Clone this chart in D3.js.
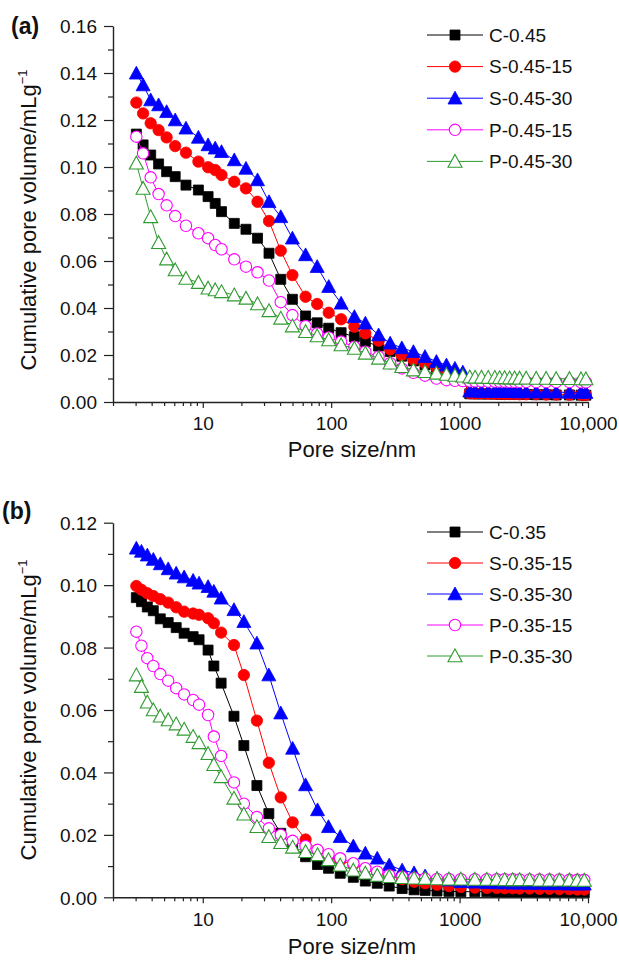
<!DOCTYPE html>
<html>
<head>
<meta charset="utf-8">
<script src="https://cdn.jsdelivr.net/npm/d3@7"></script>
<style>
  body { margin: 0; background: #fff; }
  svg  { display: block; font-family: "Liberation Sans", Arial, Helvetica, sans-serif; }
</style>
</head>
<body>
<svg id="fig" width="619" height="960"></svg>
<script>
// ─── Panel (a): w/c 0.45 ──────────────────────────────────────────────────
const sizeA = [3.04, 3.43, 3.93, 4.53, 5.23, 6.1, 7.4, 9.25, 11.0, 12.5, 14.0, 17.6, 21.7, 26.7, 32.8, 40.5,
  49.9, 63.2, 77.8, 95.7, 119.5, 151.6, 184.6, 234, 288, 355, 437, 538, 660, 790, 920, 1060,
  1200, 1320, 1480, 1670, 1880, 2050, 2240, 2450, 2680, 2930, 3300, 3950, 4720, 5650, 7170, 8820, 9630];

const volC045 = [0.1140, 0.1094, 0.1051, 0.1013, 0.0980, 0.0959, 0.0923, 0.0902, 0.0874, 0.0845, 0.0810, 0.0760,
  0.0735, 0.0697, 0.0633, 0.0522, 0.0437, 0.0366, 0.0337, 0.0314, 0.0295, 0.0278, 0.0257, 0.0238, 0.0215,
  0.0195, 0.0175, 0.0158, 0.0140, 0.0125, 0.0110, 0.0095, 0.0035, 0.0035, 0.0034, 0.0034, 0.0034, 0.0033,
  0.0033, 0.0033, 0.0032, 0.0032, 0.0032, 0.0031, 0.0031, 0.0030, 0.0030, 0.0029, 0.0029];
const volS045_15 = [0.1274, 0.1228, 0.1186, 0.1157, 0.1126, 0.1089, 0.1061, 0.1023, 0.0999, 0.0987, 0.0966, 0.0937,
  0.0909, 0.0852, 0.0770, 0.0644, 0.0540, 0.0448, 0.0417, 0.0380, 0.0352, 0.0320, 0.0292, 0.0261, 0.0224,
  0.0200, 0.0180, 0.0165, 0.0148, 0.0130, 0.0110, 0.0090, 0.0037, 0.0036, 0.0036, 0.0035, 0.0035, 0.0035,
  0.0034, 0.0034, 0.0034, 0.0033, 0.0033, 0.0033, 0.0032, 0.0032, 0.0031, 0.0031, 0.0030];
const volS045_30 = [0.1399, 0.1349, 0.1285, 0.1264, 0.1235, 0.1200, 0.1165, 0.1126, 0.1094, 0.1080, 0.1065, 0.1030,
  0.0994, 0.0945, 0.0852, 0.0788, 0.0697, 0.0626, 0.0576, 0.0491, 0.0420, 0.0363, 0.0335, 0.0285, 0.0250,
  0.0230, 0.0214, 0.0193, 0.0172, 0.0157, 0.0143, 0.0127, 0.0046, 0.0046, 0.0045, 0.0045, 0.0045, 0.0044,
  0.0044, 0.0044, 0.0043, 0.0043, 0.0043, 0.0042, 0.0042, 0.0042, 0.0041, 0.0041, 0.0040];
const volP045_15 = [0.1129, 0.1058, 0.0956, 0.0885, 0.0837, 0.0791, 0.0750, 0.0718, 0.0697, 0.0668, 0.0650, 0.0607,
  0.0576, 0.0552, 0.0517, 0.0425, 0.0370, 0.0323, 0.0292, 0.0275, 0.0257, 0.0235, 0.0214, 0.0193, 0.0165,
  0.0143, 0.0124, 0.0112, 0.0100, 0.0093, 0.0090, 0.0089, 0.0088, 0.0088, 0.0088, 0.0087, 0.0087, 0.0087,
  0.0087, 0.0086, 0.0086, 0.0086, 0.0086, 0.0085, 0.0085, 0.0085, 0.0085, 0.0084, 0.0084];
const volP045_30 = [0.1016, 0.0909, 0.0788, 0.0678, 0.0608, 0.0562, 0.0526, 0.0508, 0.0484, 0.0477, 0.0469, 0.0455,
  0.0441, 0.0417, 0.0388, 0.0356, 0.0323, 0.0299, 0.0281, 0.0264, 0.0243, 0.0228, 0.0207, 0.0186, 0.0165,
  0.0150, 0.0136, 0.0129, 0.0122, 0.0117, 0.0113, 0.0110, 0.0106, 0.0105, 0.0105, 0.0104, 0.0104, 0.0103,
  0.0103, 0.0102, 0.0102, 0.0101, 0.0101, 0.0100, 0.0100, 0.0099, 0.0099, 0.0098, 0.0098];
const namesA = ["C-0.45", "S-0.45-15", "S-0.45-30", "P-0.45-15", "P-0.45-30"];

// ─── Panel (b): w/c 0.35 ──────────────────────────────────────────────────
const sizeB = [3.04, 3.33, 3.70, 4.12, 4.67, 5.38, 6.21, 7.16, 8.41, 9.36, 11.0, 12.2, 13.9, 17.5, 20.9, 26.4,
  32.7, 40.5, 50.1, 63.2, 78.3, 95.3, 117.6, 148.8, 184.5, 228.5, 283, 357, 442, 539, 667, 826, 1023,
  1315, 1630, 1947, 2244, 2588, 2933, 3506, 4191, 5010, 5988, 7158, 8256, 9354];

const volC035 = [0.0960, 0.0947, 0.0930, 0.0918, 0.0892, 0.0880, 0.0864, 0.0846, 0.0835, 0.0825, 0.0792, 0.0741,
  0.0686, 0.0580, 0.0486, 0.0358, 0.0268, 0.0205, 0.0162, 0.0130, 0.0105, 0.0093, 0.0077, 0.0064, 0.0052,
  0.0045, 0.0036, 0.0028, 0.0024, 0.0022, 0.0020, 0.0019, 0.0018, 0.0018, 0.0018, 0.0017, 0.0017, 0.0017,
  0.0017, 0.0016, 0.0016, 0.0016, 0.0016, 0.0015, 0.0015, 0.0015];
const volS035_15 = [0.0997, 0.0985, 0.0974, 0.0965, 0.0955, 0.0944, 0.0929, 0.0915, 0.0909, 0.0905, 0.0894, 0.0878,
  0.0848, 0.0808, 0.0712, 0.0566, 0.0431, 0.0320, 0.0240, 0.0185, 0.0150, 0.0128, 0.0118, 0.0105, 0.0092,
  0.0080, 0.0068, 0.0058, 0.0050, 0.0045, 0.0040, 0.0036, 0.0033, 0.0031, 0.0030, 0.0030, 0.0029, 0.0029,
  0.0028, 0.0028, 0.0027, 0.0027, 0.0026, 0.0026, 0.0025, 0.0025];
const volS035_30 = [0.1118, 0.1108, 0.1096, 0.1082, 0.1068, 0.1052, 0.1038, 0.1026, 0.1015, 0.1006, 0.0995, 0.0980,
  0.0958, 0.0921, 0.0883, 0.0814, 0.0712, 0.0590, 0.0477, 0.0360, 0.0280, 0.0226, 0.0194, 0.0164, 0.0141,
  0.0125, 0.0103, 0.0087, 0.0078, 0.0068, 0.0060, 0.0055, 0.0050, 0.0048, 0.0047, 0.0046, 0.0046, 0.0045,
  0.0045, 0.0044, 0.0044, 0.0043, 0.0043, 0.0042, 0.0042, 0.0042];
const volP035_15 = [0.0851, 0.0806, 0.0766, 0.0741, 0.0715, 0.0694, 0.0670, 0.0650, 0.0632, 0.0617, 0.0584, 0.0515,
  0.0453, 0.0368, 0.0300, 0.0257, 0.0221, 0.0200, 0.0181, 0.0164, 0.0152, 0.0138, 0.0125, 0.0109, 0.0093,
  0.0082, 0.0071, 0.0066, 0.0062, 0.0060, 0.0059, 0.0059, 0.0058, 0.0058, 0.0058, 0.0058, 0.0058, 0.0058,
  0.0057, 0.0057, 0.0057, 0.0057, 0.0057, 0.0056, 0.0056, 0.0056];
const volP035_30 = [0.0712, 0.0675, 0.0625, 0.0600, 0.0580, 0.0568, 0.0555, 0.0538, 0.0515, 0.0495, 0.0460, 0.0425,
  0.0386, 0.0317, 0.0266, 0.0226, 0.0194, 0.0175, 0.0160, 0.0146, 0.0136, 0.0120, 0.0103, 0.0087, 0.0077,
  0.0070, 0.0066, 0.0063, 0.0061, 0.0060, 0.0059, 0.0058, 0.0058, 0.0057, 0.0057, 0.0057, 0.0056, 0.0056,
  0.0056, 0.0056, 0.0055, 0.0055, 0.0055, 0.0055, 0.0054, 0.0054];
const namesB = ["C-0.35", "S-0.35-15", "S-0.35-30", "P-0.35-15", "P-0.35-30"];

// ─── Axes ─────────────────────────────────────────────────────────────────
const yTicksA = [0, 0.02, 0.04, 0.06, 0.08, 0.10, 0.12, 0.14, 0.16];
const yTicksB = [0, 0.02, 0.04, 0.06, 0.08, 0.10, 0.12];
const xTicks = [10, 100, 1000, 10000];
const xTickLabels = ["10", "100", "1000", "10,000"];

// marker/line style per series (same order in both panels)
const styles = [
  { color: "#000000", shape: "square",   open: false },
  { color: "#ff0000", shape: "circle",   open: false },
  { color: "#0000ff", shape: "triangle", open: false },
  { color: "#ff00ff", shape: "circle",   open: true  },
  { color: "#2f9a2f", shape: "triangle", open: true  },
];

const svg = d3.select("#fig");

function markerPath(shape) {
  if (shape === "square")   return "M-5,-5H5V5H-5Z";
  if (shape === "triangle") return "M0,-7L7,5.8L-7,5.8Z";
  const r = 5.7;
  return `M${r},0A${r},${r} 0 1,1 ${-r},0A${r},${r} 0 1,1 ${r},0Z`;
}

function drawPanel(cfg) {
  const x = d3.scaleLog().domain([2, 10000]).range([113, 588]);
  const y = d3.scaleLinear().domain([0, cfg.yMax]).range([cfg.bottom, cfg.top]);
  const g = svg.append("g");

  // ── series ────────────────────────────────────────────────────────────────
  const line = d3.line().x(d => x(d[0])).y(d => y(d[1]));
  cfg.series.forEach((vals, i) => {
    const st = styles[i];
    const pts = cfg.sizes.map((s, k) => [s, vals[k]]);
    const gs = g.append("g");
    gs.append("path")
      .attr("d", line(pts))
      .attr("fill", "none")
      .attr("stroke", st.color)
      .attr("stroke-width", 1);
    gs.selectAll("path.m")
      .data(pts)
      .join("path")
      .attr("class", "m")
      .attr("transform", d => `translate(${x(d[0])},${y(d[1])})`)
      .attr("d", markerPath(st.shape))
      .attr("fill", st.open ? "#fff" : st.color)
      .attr("stroke", st.color)
      .attr("stroke-width", st.open ? 1.1 : 0.8);
  });

  // ── axes ──────────────────────────────────────────────────────────────────
  const yMinor = d3.range(0.01, cfg.yMax, 0.02);
  const xMinor = [];
  [1, 10, 100, 1000].forEach(dec => {
    for (let k = 2; k <= 9; k++) if (k * dec >= 2 && k * dec <= 10000) xMinor.push(k * dec);
  });

  const axisColor = "#222";
  const gy = g.append("g").attr("transform", "translate(113,0)")
    .call(d3.axisLeft(y).tickValues(cfg.yTicks).tickSize(9).tickSizeOuter(0)
      .tickPadding(7).tickFormat(d3.format(".2f")));
  g.append("g").attr("transform", "translate(113,0)")
    .call(d3.axisLeft(y).tickValues(yMinor).tickSize(5).tickSizeOuter(0).tickFormat(""))
    .select(".domain").remove();

  g.append("g").attr("transform", `translate(0,${cfg.bottom})`)
    .call(d3.axisBottom(x).tickValues(xTicks).tickSize(6).tickSizeOuter(0)
      .tickPadding(9).tickFormat((d, i) => xTickLabels[i]));
  g.append("g").attr("transform", `translate(0,${cfg.bottom})`)
    .call(d3.axisBottom(x).tickValues(xMinor).tickSize(4).tickSizeOuter(0).tickFormat(""))
    .select(".domain").remove();

  g.selectAll(".domain").attr("stroke", axisColor).attr("stroke-width", 1.4);
  g.selectAll(".tick line").attr("stroke", axisColor).attr("stroke-width", 1.2);
  g.selectAll(".tick text").attr("fill", "#111").style("font-size", "19px")
    .style("font-family", "Liberation Sans, Arial, sans-serif");
  gy.selectAll(".tick text").attr("dy", "0.36em");

  // ── titles ────────────────────────────────────────────────────────────────
  g.append("text")
    .attr("x", 352).attr("y", cfg.bottom + cfg.xTitleGap)
    .attr("text-anchor", "middle")
    .style("font-size", "22px").attr("fill", "#111")
    .text("Pore size/nm");

  const yt = g.append("text")
    .attr("transform", `translate(36,${cfg.yTitleMid}) rotate(-90)`)
    .attr("text-anchor", "middle")
    .style("font-size", "22px").attr("fill", "#111");
  yt.append("tspan").text("Cumulative pore volume/mLg");
  yt.append("tspan").attr("dy", -9).style("font-size", "13px").text("−1");

  g.append("text")
    .attr("x", cfg.tagX).attr("y", cfg.tagY)
    .style("font-size", "23px").style("font-weight", "bold").attr("fill", "#111")
    .text(cfg.tag);

  // ── legend ────────────────────────────────────────────────────────────────
  cfg.names.forEach((name, i) => {
    const st = styles[i];
    const ly = cfg.legendY + i * cfg.legendStep;
    const lg = g.append("g");
    lg.append("line")
      .attr("x1", 427).attr("x2", 483).attr("y1", ly).attr("y2", ly)
      .attr("stroke", st.color).attr("stroke-width", 1);
    lg.append("path")
      .attr("transform", `translate(455,${ly})`)
      .attr("d", markerPath(st.shape))
      .attr("fill", st.open ? "#fff" : st.color)
      .attr("stroke", st.color)
      .attr("stroke-width", st.open ? 1.1 : 0.8);
    lg.append("text")
      .attr("x", 489).attr("y", ly).attr("dy", "0.36em")
      .style("font-size", "19px").attr("fill", "#111")
      .text(name);
  });
}

drawPanel({
  top: 26, bottom: 402, yMax: 0.16, yTicks: yTicksA,
  sizes: sizeA,
  series: [volC045, volS045_15, volS045_30, volP045_15, volP045_30],
  names: namesA, legendY: 35, legendStep: 31.6,
  tag: "(a)", tagX: 11, tagY: 34,
  yTitleMid: 220, xTitleGap: 55
});

drawPanel({
  top: 522.7, bottom: 897.3, yMax: 0.12, yTicks: yTicksB,
  sizes: sizeB,
  series: [volC035, volS035_15, volS035_30, volP035_15, volP035_30],
  names: namesB, legendY: 532, legendStep: 31,
  tag: "(b)", tagX: 2, tagY: 519,
  yTitleMid: 710, xTitleGap: 57
});
</script>
</body>
</html>
